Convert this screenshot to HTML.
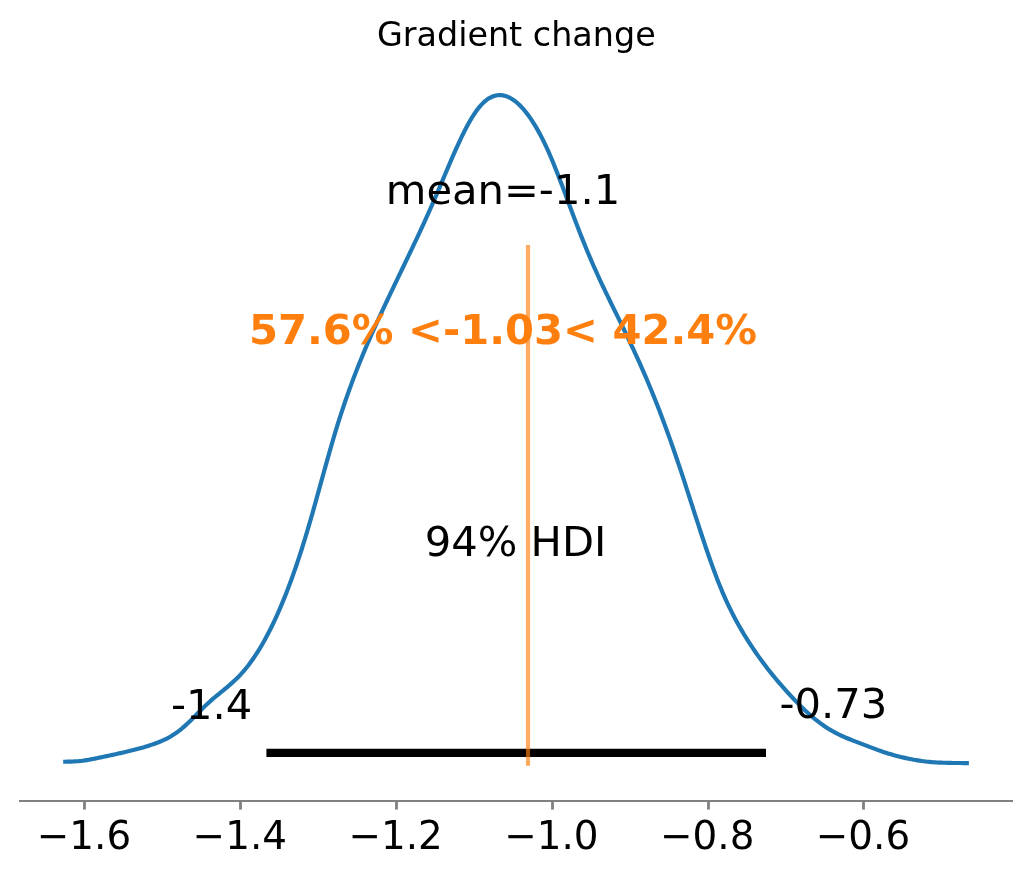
<!DOCTYPE html>
<html lang="en">
<head>
<meta charset="utf-8">
<title>Gradient change</title>
<style>
html,body{margin:0;padding:0;background:#fff;}
body{width:1031px;height:877px;overflow:hidden;}
svg{display:block;}
text{font-family:"DejaVu Sans","Liberation Sans",sans-serif;}
</style>
</head>
<body>
<svg width="1031" height="877" viewBox="0 0 1031 877">
<rect width="1031" height="877" fill="#ffffff"/>
<text x="516.3" y="45.6" font-size="33.4" text-anchor="middle" fill="#000">Gradient change</text>
<path d="M63.16,761.72 L65.13,761.71 L67.11,761.69 L69.08,761.66 L71.05,761.60 L73.03,761.50 L75.00,761.40 L76.97,761.29 L78.95,761.18 L80.92,760.98 L82.89,760.72 L84.87,760.42 L86.84,760.10 L88.81,759.76 L90.79,759.40 L92.76,759.02 L94.73,758.63 L96.71,758.23 L98.68,757.81 L100.65,757.39 L102.63,756.97 L104.60,756.54 L106.57,756.12 L108.55,755.70 L110.52,755.27 L112.49,754.85 L114.47,754.43 L116.44,754.00 L118.41,753.57 L120.39,753.13 L122.36,752.69 L124.33,752.24 L126.31,751.79 L128.28,751.32 L130.25,750.84 L132.23,750.35 L134.20,749.85 L136.17,749.34 L138.15,748.81 L140.12,748.27 L142.09,747.71 L144.06,747.13 L146.04,746.53 L148.01,745.91 L149.98,745.28 L151.96,744.62 L153.93,743.93 L155.90,743.22 L157.88,742.48 L159.85,741.69 L161.82,740.87 L163.80,739.99 L165.77,739.05 L167.74,738.05 L169.72,736.98 L171.69,735.83 L173.66,734.60 L175.64,733.29 L177.61,731.87 L179.58,730.37 L181.56,728.78 L183.53,727.10 L185.50,725.36 L187.48,723.55 L189.45,721.68 L191.42,719.76 L193.40,717.80 L195.37,715.81 L197.34,713.80 L199.32,711.79 L201.29,709.79 L203.26,707.82 L205.24,705.88 L207.21,703.99 L209.18,702.16 L211.16,700.40 L213.13,698.69 L215.10,697.03 L217.08,695.39 L219.05,693.78 L221.02,692.17 L223.00,690.57 L224.97,688.95 L226.94,687.31 L228.92,685.64 L230.89,683.93 L232.86,682.17 L234.84,680.34 L236.81,678.43 L238.78,676.45 L240.76,674.36 L242.73,672.17 L244.70,669.87 L246.68,667.46 L248.65,664.93 L250.62,662.29 L252.60,659.53 L254.57,656.66 L256.54,653.66 L258.52,650.54 L260.49,647.30 L262.46,643.94 L264.44,640.45 L266.41,636.83 L268.38,633.09 L270.36,629.22 L272.33,625.21 L274.30,621.08 L276.28,616.80 L278.25,612.40 L280.22,607.86 L282.20,603.18 L284.17,598.36 L286.14,593.40 L288.12,588.30 L290.09,583.05 L292.06,577.66 L294.03,572.13 L296.01,566.44 L297.98,560.61 L299.95,554.63 L301.93,548.49 L303.90,542.20 L305.87,535.76 L307.85,529.16 L309.82,522.41 L311.79,515.55 L313.77,508.58 L315.74,501.54 L317.71,494.43 L319.69,487.30 L321.66,480.15 L323.63,473.01 L325.61,465.91 L327.58,458.86 L329.55,451.89 L331.53,445.01 L333.50,438.26 L335.47,431.65 L337.45,425.20 L339.42,418.92 L341.39,412.80 L343.37,406.83 L345.34,401.01 L347.31,395.33 L349.29,389.78 L351.26,384.36 L353.23,379.06 L355.21,373.87 L357.18,368.79 L359.15,363.81 L361.13,358.93 L363.10,354.13 L365.07,349.42 L367.05,344.78 L369.02,340.21 L370.99,335.71 L372.97,331.26 L374.94,326.86 L376.91,322.51 L378.89,318.19 L380.86,313.91 L382.83,309.66 L384.81,305.44 L386.78,301.24 L388.75,297.07 L390.73,292.92 L392.70,288.78 L394.67,284.65 L396.65,280.54 L398.62,276.43 L400.59,272.33 L402.57,268.23 L404.54,264.12 L406.51,260.01 L408.49,255.89 L410.46,251.76 L412.43,247.62 L414.41,243.45 L416.38,239.27 L418.35,235.06 L420.33,230.83 L422.30,226.56 L424.27,222.26 L426.25,217.93 L428.22,213.55 L430.19,209.14 L432.17,204.67 L434.14,200.16 L436.11,195.60 L438.09,190.98 L440.06,186.33 L442.03,181.66 L444.00,176.97 L445.98,172.29 L447.95,167.63 L449.92,163.00 L451.90,158.42 L453.87,153.89 L455.84,149.44 L457.82,145.08 L459.79,140.82 L461.76,136.67 L463.74,132.65 L465.71,128.78 L467.68,125.06 L469.66,121.52 L471.63,118.16 L473.60,114.99 L475.58,112.04 L477.55,109.32 L479.52,106.84 L481.50,104.61 L483.47,102.62 L485.44,100.87 L487.42,99.36 L489.39,98.09 L491.36,97.05 L493.34,96.23 L495.31,95.64 L497.28,95.27 L499.26,95.11 L501.23,95.16 L503.20,95.43 L505.18,95.89 L507.15,96.56 L509.12,97.42 L511.10,98.47 L513.07,99.72 L515.04,101.14 L517.02,102.75 L518.99,104.54 L520.96,106.50 L522.94,108.63 L524.91,110.94 L526.88,113.42 L528.86,116.07 L530.83,118.89 L532.80,121.89 L534.78,125.05 L536.75,128.39 L538.72,131.89 L540.70,135.57 L542.67,139.42 L544.64,143.43 L546.62,147.61 L548.59,151.96 L550.56,156.48 L552.54,161.16 L554.51,165.99 L556.48,170.94 L558.46,176.00 L560.43,181.14 L562.40,186.36 L564.38,191.62 L566.35,196.92 L568.32,202.22 L570.30,207.52 L572.27,212.79 L574.24,218.02 L576.22,223.20 L578.19,228.32 L580.16,233.39 L582.14,238.39 L584.11,243.32 L586.08,248.17 L588.06,252.94 L590.03,257.63 L592.00,262.22 L593.97,266.72 L595.95,271.14 L597.92,275.49 L599.89,279.78 L601.87,284.01 L603.84,288.19 L605.81,292.32 L607.79,296.43 L609.76,300.50 L611.73,304.55 L613.71,308.59 L615.68,312.62 L617.65,316.64 L619.63,320.67 L621.60,324.71 L623.57,328.76 L625.55,332.84 L627.52,336.95 L629.49,341.09 L631.47,345.27 L633.44,349.49 L635.41,353.76 L637.39,358.08 L639.36,362.45 L641.33,366.88 L643.31,371.37 L645.28,375.93 L647.25,380.55 L649.23,385.24 L651.20,390.01 L653.17,394.86 L655.15,399.78 L657.12,404.78 L659.09,409.86 L661.07,415.01 L663.04,420.24 L665.01,425.54 L666.99,430.93 L668.96,436.38 L670.93,441.92 L672.91,447.53 L674.88,453.21 L676.85,458.97 L678.83,464.80 L680.80,470.71 L682.77,476.69 L684.75,482.72 L686.72,488.80 L688.69,494.90 L690.67,501.03 L692.64,507.16 L694.61,513.29 L696.59,519.40 L698.56,525.48 L700.53,531.51 L702.51,537.49 L704.48,543.40 L706.45,549.23 L708.43,554.98 L710.40,560.61 L712.37,566.13 L714.35,571.53 L716.32,576.78 L718.29,581.89 L720.27,586.83 L722.24,591.59 L724.21,596.17 L726.19,600.59 L728.16,604.84 L730.13,608.94 L732.11,612.90 L734.08,616.73 L736.05,620.43 L738.03,624.02 L740.00,627.51 L741.97,630.90 L743.94,634.20 L745.92,637.43 L747.89,640.59 L749.86,643.67 L751.84,646.69 L753.81,649.64 L755.78,652.53 L757.76,655.36 L759.73,658.13 L761.70,660.84 L763.68,663.50 L765.65,666.11 L767.62,668.67 L769.60,671.18 L771.57,673.65 L773.54,676.08 L775.52,678.47 L777.49,680.82 L779.46,683.13 L781.44,685.42 L783.41,687.67 L785.38,689.90 L787.36,692.10 L789.33,694.27 L791.30,696.42 L793.28,698.53 L795.25,700.61 L797.22,702.66 L799.20,704.67 L801.17,706.63 L803.14,708.56 L805.12,710.44 L807.09,712.28 L809.06,714.06 L811.04,715.80 L813.01,717.48 L814.98,719.11 L816.96,720.68 L818.93,722.19 L820.90,723.65 L822.88,725.06 L824.85,726.41 L826.82,727.71 L828.80,728.96 L830.77,730.15 L832.74,731.29 L834.72,732.38 L836.69,733.42 L838.66,734.41 L840.64,735.35 L842.61,736.25 L844.58,737.12 L846.56,737.96 L848.53,738.77 L850.50,739.55 L852.48,740.33 L854.45,741.09 L856.42,741.84 L858.40,742.59 L860.37,743.35 L862.34,744.11 L864.32,744.87 L866.29,745.64 L868.26,746.40 L870.24,747.16 L872.21,747.92 L874.18,748.66 L876.16,749.39 L878.13,750.11 L880.10,750.81 L882.08,751.49 L884.05,752.15 L886.02,752.79 L888.00,753.41 L889.97,754.00 L891.94,754.58 L893.91,755.14 L895.89,755.68 L897.86,756.20 L899.83,756.71 L901.81,757.19 L903.78,757.65 L905.75,758.10 L907.73,758.52 L909.70,758.93 L911.67,759.31 L913.65,759.68 L915.62,760.04 L917.59,760.37 L919.57,760.68 L921.54,760.98 L923.51,761.24 L925.49,761.48 L927.46,761.70 L929.43,761.90 L931.41,762.08 L933.38,762.23 L935.35,762.35 L937.33,762.46 L939.30,762.55 L941.27,762.63 L943.25,762.71 L945.22,762.77 L947.19,762.83 L949.17,762.88 L951.14,762.92 L953.11,762.96 L955.09,762.99 L957.06,763.02 L959.03,763.03 L961.01,763.04 L962.98,763.04 L964.95,763.05 L966.93,763.05 L968.90,763.05" fill="none" stroke="#1f77b4" stroke-width="4.17" stroke-linejoin="round" stroke-linecap="butt"/>
<line x1="266.4" y1="752.85" x2="766.0" y2="752.85" stroke="#000" stroke-width="8.2"/>
<rect x="525.9" y="245" width="4.2" height="520.8" fill="#ff7f0e" fill-opacity="0.65"/>
<g font-size="41.67" fill="#000">
<text x="503" y="204.1" text-anchor="middle">mean=-1.1</text>
<text x="515.5" y="555.5" text-anchor="middle">94% HDI</text>
<text x="252.3" y="719.3" text-anchor="end">-1.4</text>
<text x="779.5" y="717.9" text-anchor="start">-0.73</text>
</g>
<text x="503" y="344" font-size="41.67" font-weight="bold" fill="#ff7f0e" text-anchor="middle">57.6% &lt;-1.03&lt; 42.4%</text>
<g stroke="#808080" stroke-width="2.8">
<line x1="19" y1="801" x2="1013" y2="801" stroke-width="2"/>
<line x1="84.5" y1="801" x2="84.5" y2="809.6"/><line x1="240.5" y1="801" x2="240.5" y2="809.6"/><line x1="396.5" y1="801" x2="396.5" y2="809.6"/><line x1="552.5" y1="801" x2="552.5" y2="809.6"/><line x1="708.5" y1="801" x2="708.5" y2="809.6"/><line x1="863.5" y1="801" x2="863.5" y2="809.6"/>
</g>
<g font-size="38.89" fill="#000" text-anchor="middle">
<text x="84.0" y="848.6">−1.6</text><text x="239.8" y="848.6">−1.4</text><text x="395.6" y="848.6">−1.2</text><text x="551.4" y="848.6">−1.0</text><text x="707.2" y="848.6">−0.8</text><text x="863.0" y="848.6">−0.6</text>
</g>
</svg>
</body>
</html>
